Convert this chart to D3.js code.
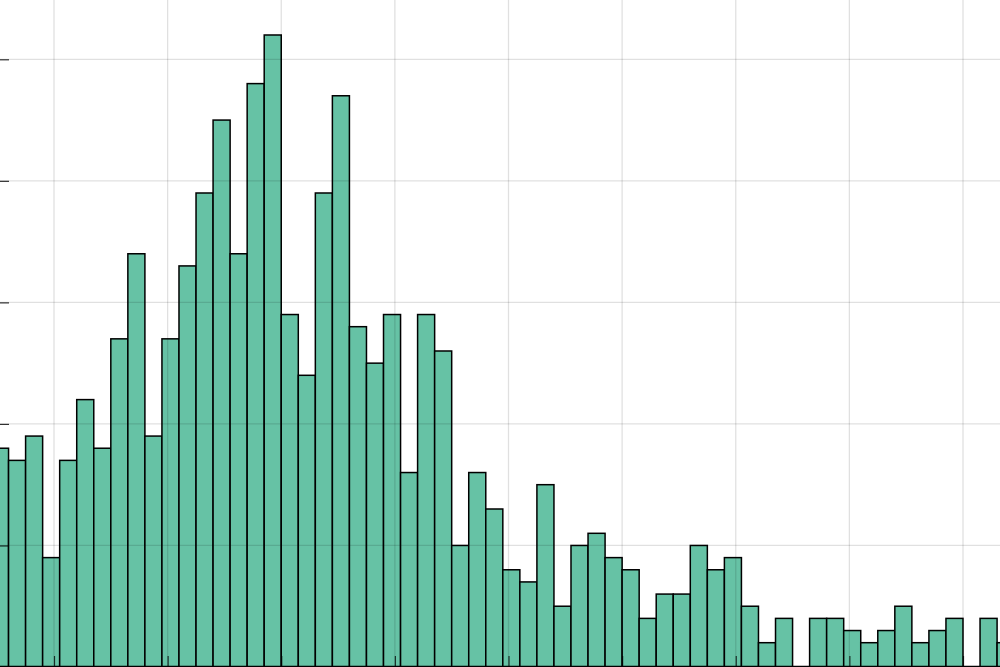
<!DOCTYPE html>
<html>
<head>
<meta charset="utf-8">
<script src="https://cdn.jsdelivr.net/npm/d3@7"></script>
<style>
html,body{margin:0;padding:0;background:#fff;overflow:hidden;}
svg{display:block;}
</style>
</head>
<body>
<svg id="chart" width="1000" height="667"></svg>
<script>
// Histogram bins: left edges (bin width 3) and counts
const binStart = 9;
const binWidth = 3;
const counts = [18,17,19,9,17,22,18,27,34,19,27,33,39,45,34,48,52,29,24,39,47,28,25,29,16,29,26,10,16,13,8,7,15,5,10,11,9,8,4,6,6,10,8,9,5,2,4,0,4,4,3,2,3,5,2,3,4,0,4,2];
const xTicks = [20,40,60,80,100,120,140,160,180];
const yTicks = [0,10,20,30,40,50];

const bins = counts.map((c,i)=>({x0: binStart + i*binWidth, x1: binStart + (i+1)*binWidth, n: c}));

const W = 1000, H = 667;
const svg = d3.select("#chart");

// x: value 20 -> 54px, value 180 -> 963px
const pxPerUnit = (963-54)/160;
const x = d3.scaleLinear().domain([20 - 54/pxPerUnit, 20 + (W-54)/pxPerUnit]).range([0, W]);
// y: 0 -> 667, 50 -> 59.3
const pxPerCount = (667-59.3)/50;
const y = d3.scaleLinear().domain([0, H/pxPerCount]).range([H, 0]);

// bars
svg.append("g").selectAll("rect").data(bins.filter(d=>d.n>0)).join("rect")
  .attr("x", d=>x(d.x0))
  .attr("y", d=>y(d.n))
  .attr("width", d=>x(d.x1)-x(d.x0))
  .attr("height", d=>y(0)-y(d.n))
  .attr("fill", "#66c2a5")
  .attr("stroke", "#000")
  .attr("stroke-width", 1.5);

// grid (drawn over bars, faint)
const grid = svg.append("g").attr("stroke", "rgba(0,0,0,0.12)").attr("stroke-width", 1.3);
grid.selectAll("line.v").data(xTicks).join("line")
  .attr("x1", d=>x(d)).attr("x2", d=>x(d)).attr("y1", 0).attr("y2", H);
grid.selectAll("line.h").data(yTicks.filter(d=>d>0)).join("line")
  .attr("y1", d=>y(d)).attr("y2", d=>y(d)).attr("x1", 0).attr("x2", W);

// axes with inward ticks, no labels
const yAxis = d3.axisRight(y).tickValues(yTicks.filter(d=>d>0)).tickSize(9).tickFormat("");
const gy = svg.append("g").attr("transform", "translate(0,0)").call(yAxis);
gy.select(".domain").remove();
gy.selectAll(".tick line").attr("stroke", "rgba(0,0,0,0.8)").attr("stroke-width", 1.2);

const xAxis = d3.axisTop(x).tickValues(xTicks).tickSize(11).tickFormat("");
const gx = svg.append("g").attr("transform", `translate(0,${H})`).call(xAxis);
gx.select(".domain").remove();
gx.selectAll(".tick line").attr("stroke", "rgba(0,0,0,0.75)").attr("stroke-width", 1.2);

// bottom frame line
svg.append("line").attr("x1",0).attr("x2",W).attr("y1",H-0.5).attr("y2",H-0.5)
  .attr("stroke","#000").attr("stroke-width",1.5);
</script>
</body>
</html>
